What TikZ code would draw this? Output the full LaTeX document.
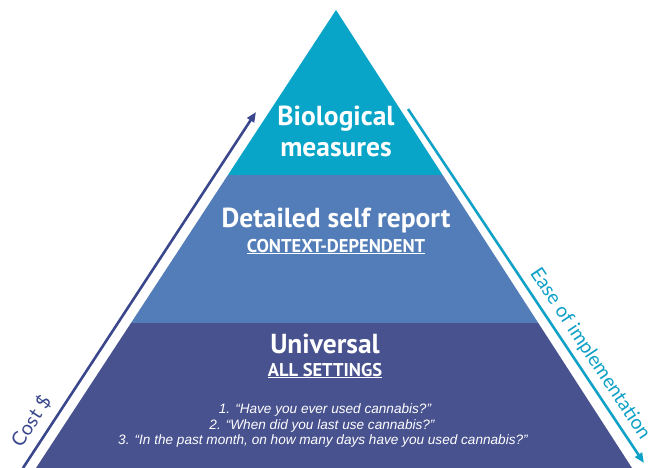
\documentclass[tikz,border=0pt]{standalone}
\usepackage{fontspec}
\setmainfont{PT Sans}
\newfontfamily\qfont{Liberation Sans}
\newfontfamily\sidefont{Lato}
\usetikzlibrary{arrows.meta}

\definecolor{bioteal}{HTML}{08A5C8}
\definecolor{selfblue}{HTML}{537DB8}
\definecolor{univnavy}{HTML}{48528F}
\definecolor{costnavy}{HTML}{3B478C}
\definecolor{easeteal}{HTML}{0EA0C7}

\tikzset{
  head/.style={text=white, font=\bfseries\fontsize{27.5}{31}\selectfont, align=center},
  sub/.style={text=white, font=\bfseries\fontsize{18.5}{22}\selectfont},
  question/.style={text=white, font=\qfont\itshape\fontsize{13.6}{15.5}\selectfont, align=center},
  side/.style={font=\sidefont\fontsize{19.5}{23}\selectfont, inner sep=1pt},
  sidearrow/.style={line width=2.6pt, -{Triangle[length=10pt,width=8pt]}}
}

\begin{document}
\begin{tikzpicture}[x=1pt, y=-1pt]
		\useasboundingbox (0,0) rectangle (653,468);
		% pyramid in three bands
		\begin{scope}
			\clip (336,10) -- (632,468) -- (36,468) -- cycle;
			\fill[bioteal] (0,0) rectangle (653,175);
			\fill[selfblue] (0,175) rectangle (653,323);
			\fill[univnavy] (0,323) rectangle (653,468);
		\end{scope}
		\node [head] (bio) at (336,125) [anchor=base] {Biological};
		\node [head] (bio2) at (336,157) [anchor=base] {measures};
		\node [head] (self) at (336,227) [anchor=base] {Detailed self report};
		\node [sub] (context) at (336,252) [anchor=base] {\underline{CONTEXT-DEPENDENT}};
		\node [head] (univ) at (325,353) [anchor=base] {Universal};
		\node [sub] (allset) at (325,376) [anchor=base] {\underline{ALL SETTINGS}};
		\node [question] (q1) at (325,413) [anchor=base] {1. “Have you ever used cannabis?”};
		\node [question] (q2) at (322,429) [anchor=base] {2. “When did you last use cannabis?”};
		\node [question] (q3) at (323,444) [anchor=base] {3. “In the past month, on how many days have you used cannabis?”};
		% arrows along the sides
		\coordinate (costlow) at (23,468);
		\coordinate (costhigh) at (256,112);
		\coordinate (easehigh) at (408,109);
		\coordinate (easelow) at (644,463);
		\draw[sidearrow, costnavy] (costlow) -- (costhigh);
		\draw[sidearrow, easeteal] (easehigh) -- (easelow);
		\node [side, text=costnavy, rotate=56.8] (cost) at (31,421) {Cost \$};
		\node [side, text=easeteal, rotate=-56.4] (ease) at (590,354) {Ease of implementation};
\end{tikzpicture}
\end{document}
